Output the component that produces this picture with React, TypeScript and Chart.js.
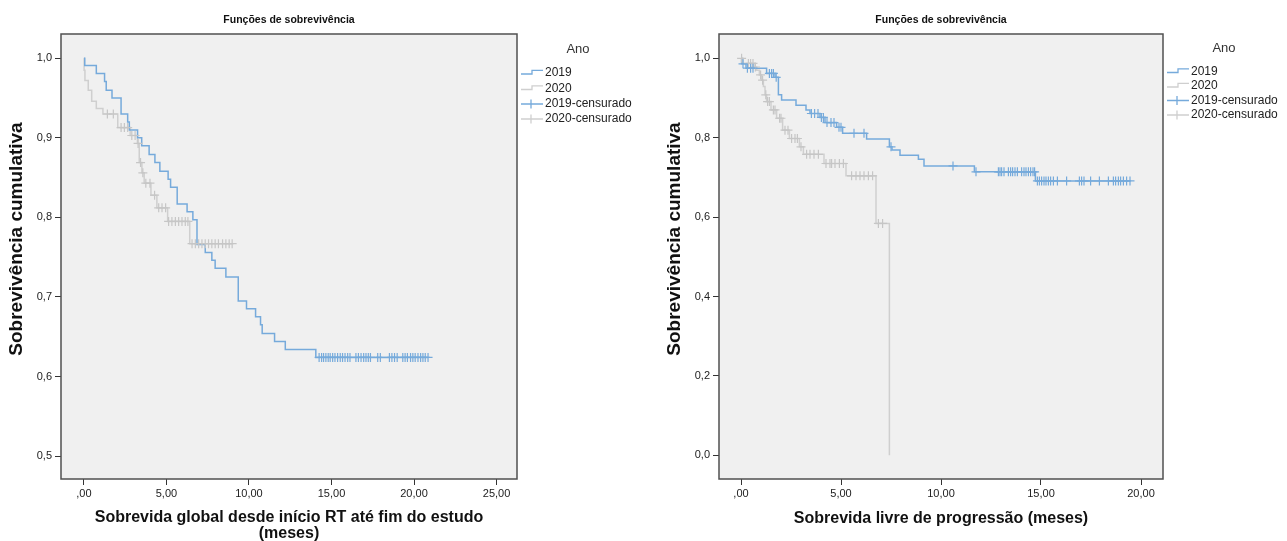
import React, { useEffect, useRef } from 'react';
import { Chart, registerables } from 'chart.js';

Chart.register(...registerables);

const FONT = "'Liberation Sans', Arial, sans-serif";
const BLUE = '#76aadb';
const GRAY = '#cfcfcf';

// ---------- Left panel: overall survival ----------
const osXTicks = [0, 5, 10, 15, 20, 25];
const osXTickLabels = [',00', '5,00', '10,00', '15,00', '20,00', '25,00'];
const osYTicks = [0.5, 0.6, 0.7, 0.8, 0.9, 1.0];
const osYTickLabels = ['0,5', '0,6', '0,7', '0,8', '0,9', '1,0'];

const os2019Times = [0.05, 0.75, 1.25, 1.35, 1.7, 2.25, 2.65, 2.75, 3.25, 3.5, 3.95, 4.3, 4.6, 5.1, 5.25, 5.65, 6.25, 6.6, 6.85, 7.35, 7.75, 7.95, 8.6, 9.35, 9.85, 10.4, 10.7, 10.8, 11.55, 12.2, 14.05];
const os2019Surv = [0.991, 0.981, 0.971, 0.96, 0.95, 0.93, 0.92, 0.91, 0.9, 0.89, 0.879, 0.869, 0.858, 0.848, 0.838, 0.817, 0.807, 0.797, 0.766, 0.756, 0.746, 0.736, 0.725, 0.695, 0.685, 0.675, 0.665, 0.654, 0.644, 0.634, 0.624];
const os2019Censored = [14.25, 14.4, 14.52, 14.66, 14.8, 14.92, 15.07, 15.21, 15.37, 15.53, 15.67, 15.82, 15.98, 16.12, 16.48, 16.63, 16.79, 16.95, 17.09, 17.23, 17.36, 17.8, 17.96, 18.51, 18.66, 18.82, 18.98, 19.32, 19.46, 19.6, 19.79, 19.93, 20.07, 20.24, 20.4, 20.54, 20.68, 20.85];

const os2020Times = [0.01, 0.06, 0.26, 0.47, 0.75, 1.15, 2.05, 2.8, 3.24, 3.35, 3.51, 3.65, 4.06, 4.42, 5.07, 6.41];
const os2020Surv = [0.985, 0.972, 0.96, 0.946, 0.937, 0.93, 0.913, 0.903, 0.893, 0.869, 0.856, 0.843, 0.828, 0.812, 0.795, 0.767];
const os2020Censored = [1.42, 1.78, 2.25, 2.45, 2.65, 2.9, 3.1, 3.28, 3.43, 3.57, 3.75, 4.0, 4.28, 4.53, 4.73, 4.95, 5.13, 5.33, 5.54, 5.74, 5.94, 6.14, 6.3, 6.55, 6.75, 6.95, 7.15, 7.35, 7.55, 7.75, 7.95, 8.15, 8.4, 8.6, 8.8, 8.98];

// ---------- Right panel: progression-free survival ----------
const pfsXTicks = [0, 5, 10, 15, 20];
const pfsXTickLabels = [',00', '5,00', '10,00', '15,00', '20,00'];
const pfsYTicks = [0, 0.2, 0.4, 0.6, 0.8, 1.0];
const pfsYTickLabels = ['0,0', '0,2', '0,4', '0,6', '0,8', '1,0'];

const pfs2019Times = [0.03, 0.25, 1.28, 1.7, 1.87, 2.03, 2.75, 3.25, 3.45, 3.95, 4.2, 4.78, 5.08, 6.28, 7.42, 7.55, 7.95, 8.87, 9.15, 11.67, 14.72];
const pfs2019Surv = [0.986, 0.975, 0.962, 0.952, 0.908, 0.895, 0.882, 0.87, 0.861, 0.851, 0.838, 0.826, 0.811, 0.797, 0.777, 0.769, 0.756, 0.746, 0.729, 0.714, 0.691];
const pfs2019Censored = [0.1, 0.32, 0.48, 0.6, 1.42, 1.53, 1.62, 1.76, 3.52, 3.68, 3.85, 4.02, 4.12, 4.3, 4.5, 4.65, 4.9, 5.0, 5.65, 6.15, 7.5, 10.6, 11.75, 12.87, 12.95, 13.03, 13.15, 13.37, 13.48, 13.58, 13.7, 13.82, 14.03, 14.15, 14.25, 14.37, 14.48, 14.6, 14.68, 14.82, 14.92, 15.03, 15.15, 15.25, 15.37, 15.48, 15.62, 15.82, 16.28, 16.92, 17.03, 17.15, 17.48, 17.92, 18.37, 18.62, 18.73, 18.87, 18.98, 19.12, 19.28, 19.45];

const pfs2020Times = [0.1, 0.65, 0.78, 0.92, 1.03, 1.12, 1.2, 1.28, 1.5, 1.78, 2.08, 2.42, 2.92, 3.12, 4.15, 5.25, 6.75, 7.42];
const pfs2020Surv = [0.987, 0.978, 0.97, 0.958, 0.945, 0.929, 0.908, 0.891, 0.87, 0.849, 0.819, 0.798, 0.777, 0.758, 0.735, 0.704, 0.584, 0];
const pfs2020Censored = [0.03, 0.37, 0.48, 0.6, 0.72, 0.98, 1.08, 1.24, 1.33, 1.42, 1.62, 1.7, 1.93, 2.0, 2.2, 2.35, 2.53, 2.7, 2.82, 3.0, 3.28, 3.45, 3.65, 3.87, 4.25, 4.45, 4.53, 4.7, 4.92, 5.12, 5.53, 5.75, 5.95, 6.15, 6.37, 6.58, 6.87, 7.08];

const legendLabels = ['2019', '2020', '2019-censurado', '2020-censurado'];
const legendTitle = 'Ano';
const chartTitle = 'Funções de sobrevivência';
const yTitle = 'Sobrevivência cumulativa';
const osXTitle = ['Sobrevida global desde início RT até fim do estudo', '(meses)'];
const pfsXTitle = 'Sobrevida livre de progressão (meses)';

type Pt = { x: number; y: number };

function stepPoints(times: number[], surv: number[], censored: number[]): Pt[] {
  const pts: Pt[] = [{ x: 0, y: 1 }];
  times.forEach((t, i) => pts.push({ x: t, y: surv[i] }));
  const lastT = times[times.length - 1];
  const maxC = Math.max(...censored);
  if (maxC > lastT) pts.push({ x: maxC, y: surv[surv.length - 1] });
  return pts;
}

function levelAt(times: number[], surv: number[], t: number): number {
  let s = 1;
  for (let i = 0; i < times.length; i++) if (times[i] <= t) s = surv[i];
  return s;
}

function censorPoints(times: number[], surv: number[], censored: number[]): Pt[] {
  return censored.map((t) => ({ x: t, y: levelAt(times, surv, t) }));
}

type Panel = {
  width: number;
  yAxisWidth: number;
  padRight: number;
  xMin: number; xMax: number; yMin: number; yMax: number;
  xTicks: number[]; xTickLabels: string[];
  yTicks: number[]; yTickLabels: string[];
  xTitle: string | string[]; xTitlePadBottom: number;
  yTitleX: number; yTitleY: number;
  t19: number[]; s19: number[]; c19: number[];
  t20: number[]; s20: number[]; c20: number[];
  legendRows: number[]; legendAnoY: number;
};

const CANVAS_H = 545;
const AREA_TOP = 34;
const AREA_BOTTOM = 479;

const bgPlugin = {
  id: 'plotBg',
  beforeDraw(chart: any) {
    const { ctx, chartArea: a } = chart;
    ctx.save();
    ctx.fillStyle = '#ffffff';
    ctx.fillRect(0, 0, chart.width, chart.height);
    ctx.fillStyle = '#f0f0f0';
    ctx.fillRect(a.left, a.top, a.right - a.left, a.bottom - a.top);
    ctx.restore();
  },
  afterDraw(chart: any) {
    const { ctx, chartArea: a } = chart;
    ctx.save();
    ctx.strokeStyle = '#505050';
    ctx.lineWidth = 1.5;
    ctx.strokeRect(a.left, a.top, a.right - a.left, a.bottom - a.top);
    ctx.restore();
  },
};

function makeDecorPlugin(panel: Panel) {
  return {
    id: 'kmDecor',
    afterDraw(chart: any) {
      const { ctx, chartArea: a } = chart;
      // y-axis title
      ctx.save();
      ctx.translate(panel.yTitleX, panel.yTitleY);
      ctx.rotate(-Math.PI / 2);
      ctx.fillStyle = '#111';
      ctx.font = `bold 19px ${FONT}`;
      ctx.textAlign = 'center';
      ctx.textBaseline = 'middle';
      ctx.fillText(yTitle, 0, 0);
      ctx.restore();

      // legend
      const x0 = a.right + 4;
      const x1 = x0 + 22;
      ctx.save();
      ctx.fillStyle = '#333';
      ctx.font = `13px ${FONT}`;
      ctx.textAlign = 'center';
      ctx.textBaseline = 'middle';
      ctx.fillText(legendTitle, x0 + 57, panel.legendAnoY);
      const colors = [BLUE, GRAY, BLUE, GRAY];
      legendLabels.forEach((lab, i) => {
        const cy = panel.legendRows[i];
        ctx.strokeStyle = colors[i];
        ctx.lineWidth = 1.3;
        ctx.beginPath();
        if (i < 2) {
          ctx.moveTo(x0, cy + 1);
          ctx.lineTo(x0 + 11, cy + 1);
          ctx.lineTo(x0 + 11, cy - 2.6);
          ctx.lineTo(x1, cy - 2.6);
        } else {
          ctx.moveTo(x0, cy);
          ctx.lineTo(x1, cy);
          ctx.moveTo(x0 + 10, cy - 4.5);
          ctx.lineTo(x0 + 10, cy + 4.5);
        }
        ctx.stroke();
        ctx.fillStyle = '#222';
        ctx.font = `12px ${FONT}`;
        ctx.textAlign = 'left';
        ctx.fillText(lab, x1 + 2, cy);
      });
      ctx.restore();
    },
  };
}

function buildConfig(p: Panel): any {
  const lineDs = (label: string, data: Pt[], color: string, order: number) => ({
    label, data, borderColor: color, backgroundColor: color, borderWidth: 1.5,
    stepped: true, pointRadius: 0, pointHoverRadius: 0, fill: false, order,
  });
  const censorDs = (label: string, data: Pt[], color: string, order: number) => ({
    label, data, showLine: false, borderColor: color, backgroundColor: color,
    pointStyle: 'cross', pointRadius: 4.5, pointHoverRadius: 4.5, pointBorderWidth: 1.2, order,
  });
  const tickFont = { family: FONT, size: 11 };
  return {
    type: 'line',
    data: {
      datasets: [
        lineDs(legendLabels[0], stepPoints(p.t19, p.s19, p.c19), BLUE, 2),
        lineDs(legendLabels[1], stepPoints(p.t20, p.s20, p.c20), GRAY, 3),
        censorDs(legendLabels[2], censorPoints(p.t19, p.s19, p.c19), BLUE, 0),
        censorDs(legendLabels[3], censorPoints(p.t20, p.s20, p.c20), '#c6c6c6', 1),
      ],
    },
    options: {
      responsive: false,
      animation: false,
      events: [],
      layout: { padding: { left: 0, top: 0, right: p.padRight, bottom: 0 } },
      plugins: {
        legend: { display: false },
        tooltip: { enabled: false },
        title: {
          display: true,
          text: chartTitle,
          fullSize: false,
          color: '#111',
          font: { family: FONT, size: 10.5, weight: 'bold', lineHeight: 1.2 },
          padding: { top: 13.7, bottom: AREA_TOP - 13.7 - 12.6 },
        },
      },
      scales: {
        x: {
          type: 'linear',
          min: p.xMin,
          max: p.xMax,
          afterBuildTicks: (axis: any) => { axis.ticks = p.xTicks.map((v) => ({ value: v })); },
          afterFit: (axis: any) => { axis.height = CANVAS_H - AREA_BOTTOM; },
          ticks: {
            callback: (_v: any, i: number) => p.xTickLabels[i],
            font: tickFont, color: '#222', padding: 2, maxRotation: 0, autoSkip: false,
          },
          grid: { drawOnChartArea: false, drawTicks: true, tickLength: 6, color: '#333', lineWidth: 1 },
          border: { display: false },
          title: {
            display: true,
            text: p.xTitle,
            color: '#111',
            font: { family: FONT, size: 16, weight: 'bold', lineHeight: 1.0 },
            padding: { top: 0, bottom: p.xTitlePadBottom },
          },
        },
        y: {
          type: 'linear',
          min: p.yMin,
          max: p.yMax,
          afterBuildTicks: (axis: any) => { axis.ticks = p.yTicks.map((v) => ({ value: v })); },
          afterFit: (axis: any) => { axis.width = p.yAxisWidth; },
          ticks: {
            callback: (_v: any, i: number) => p.yTickLabels[i],
            font: tickFont, color: '#222', padding: 3, autoSkip: false,
          },
          grid: { drawOnChartArea: false, drawTicks: true, tickLength: 6, color: '#333', lineWidth: 1 },
          border: { display: false },
          title: { display: false },
        },
      },
    },
    plugins: [bgPlugin, makeDecorPlugin(p)],
  };
}

const leftPanel: Panel = {
  width: 645,
  yAxisWidth: 61,
  padRight: 645 - 517,
  xMin: -1.39, xMax: 26.24,
  yMin: 0.4711, yMax: 1.0306,
  xTicks: osXTicks, xTickLabels: osXTickLabels,
  yTicks: osYTicks, yTickLabels: osYTickLabels,
  xTitle: osXTitle, xTitlePadBottom: 3,
  yTitleX: 17, yTitleY: 239,
  t19: os2019Times, s19: os2019Surv, c19: os2019Censored,
  t20: os2020Times, s20: os2020Surv, c20: os2020Censored,
  legendRows: [73, 88.5, 104, 119],
  legendAnoY: 49,
};

const rightPanel: Panel = {
  width: 642,
  yAxisWidth: 74,
  padRight: 642 - 518,
  xMin: -1.1, xMax: 21.1,
  yMin: -0.0597, yMax: 1.0612,
  xTicks: pfsXTicks, xTickLabels: pfsXTickLabels,
  yTicks: pfsYTicks, yTickLabels: pfsYTickLabels,
  xTitle: pfsXTitle, xTitlePadBottom: 18,
  yTitleX: 30, yTitleY: 239,
  t19: pfs2019Times, s19: pfs2019Surv, c19: pfs2019Censored,
  t20: pfs2020Times, s20: pfs2020Surv, c20: pfs2020Censored,
  legendRows: [71.5, 86, 100.5, 115],
  legendAnoY: 48,
};

function KMChart({ panel, left }: { panel: Panel; left: number }) {
  const ref = useRef<HTMLCanvasElement>(null);
  useEffect(() => {
    const chart = new Chart(ref.current as HTMLCanvasElement, buildConfig(panel));
    return () => chart.destroy();
  }, [panel]);
  return (
    <canvas
      ref={ref}
      width={panel.width}
      height={CANVAS_H}
      style={{ position: 'absolute', left, top: 0, width: panel.width, height: CANVAS_H, display: 'block' }}
    />
  );
}

export default function App() {
  return (
    <div style={{ position: 'fixed', left: 0, top: 0, width: 1287, height: 541, overflow: 'hidden', background: '#fff' }}>
      <KMChart panel={leftPanel} left={0} />
      <KMChart panel={rightPanel} left={645} />
    </div>
  );
}
